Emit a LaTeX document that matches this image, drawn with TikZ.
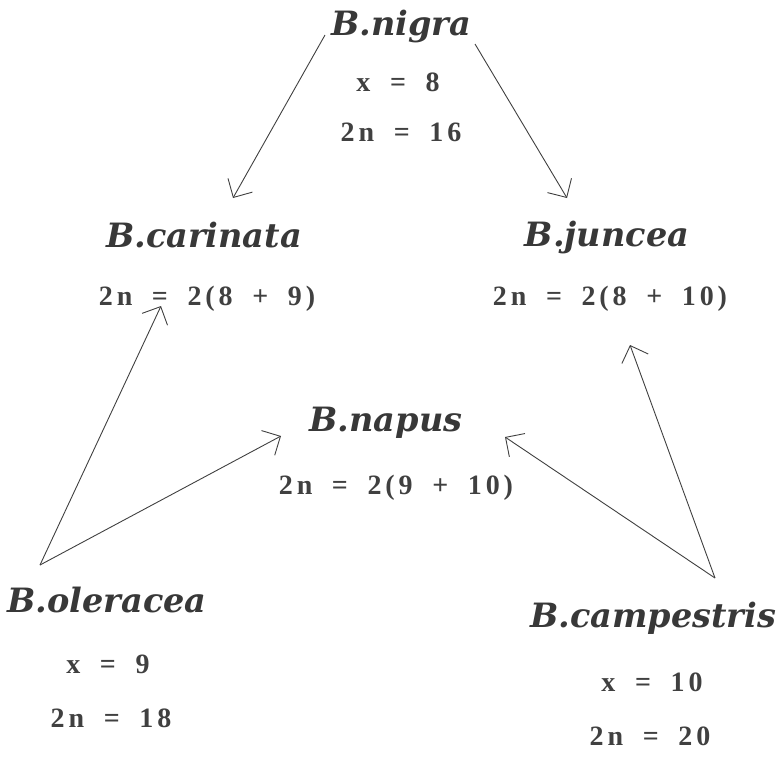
\documentclass[tikz,border=0pt]{standalone}
\usepackage{fontspec}
\usetikzlibrary{arrows.meta}
\newfontfamily\sptitle{DejaVu Serif}
\newfontfamily\spnum[LetterSpace=14]{Liberation Serif}
\newcommand{\gp}{\hspace{0.7em}}
\tikzset{
  species/.style={font=\sptitle\bfseries\itshape\fontsize{33.5}{36}\selectfont, text=black!78, inner sep=0pt},
  count/.style={font=\spnum\bfseries\fontsize{28}{32}\selectfont, text=black!75, inner sep=0pt},
  arr/.style={draw=black!75, line width=0.9pt, -{Straight Barb[length=14pt,width=28pt,line width=0.9pt]}},
  ln/.style={draw=black!75, line width=0.9pt}
}
\begin{document}
\begin{tikzpicture}[x=1pt,y=-1pt]
\useasboundingbox (0,0) rectangle (784,756);
% species names
\node[species] (nigra) at (401,26) {B.nigra};
\node[species] (carinata) at (204,235) {B.carinata};
\node[species] (juncea) at (607,237) {B.juncea};
\node[species] (napus) at (386,423) {B.napus};
\node[species] (oleracea) at (107,600) {B.oleracea};
\node[species] (campestris) at (653,618) {B.campestris};
% counts
\node[count] (nx) at (398,82) {x\gp=\gp8};
\node[count] (n2) at (401,132) {2n\gp=\gp16};
\node[count] (c2) at (207,299) {2n\gp=\gp2(8\gp+\gp9)};
\node[count] (j2) at (610,299) {2n\gp=\gp2(8\gp+\gp10)};
\node[count] (p2) at (396,488) {2n\gp=\gp2(9\gp+\gp10)};
\node[count] (ox) at (108,664) {x\gp=\gp9};
\node[count] (o2) at (111,718) {2n\gp=\gp18};
\node[count] (cx) at (652,682) {x\gp=\gp10};
\node[count] (cc2) at (650,736) {2n\gp=\gp20};
% connector ends
\coordinate (nigL) at (325,35);
\coordinate (nigR) at (475,44);
\coordinate (carT) at (161,306);
\coordinate (junT) at (630,345);
\coordinate (napL) at (281,436);
\coordinate (napR) at (505,437);
\coordinate (oleA) at (40,565);
\coordinate (camA) at (715,578);
\coordinate (carH) at (233,198);
\coordinate (junH) at (567,198);
% arrows
\draw[arr] (nigL) -- (carH);
\draw[arr] (nigR) -- (junH);
\draw[arr] (oleA) -- (carT);
\draw[arr] (oleA) -- (napL);
\draw[arr] (camA) -- (junT);
\draw[arr] (camA) -- (napR);
\end{tikzpicture}
\end{document}
